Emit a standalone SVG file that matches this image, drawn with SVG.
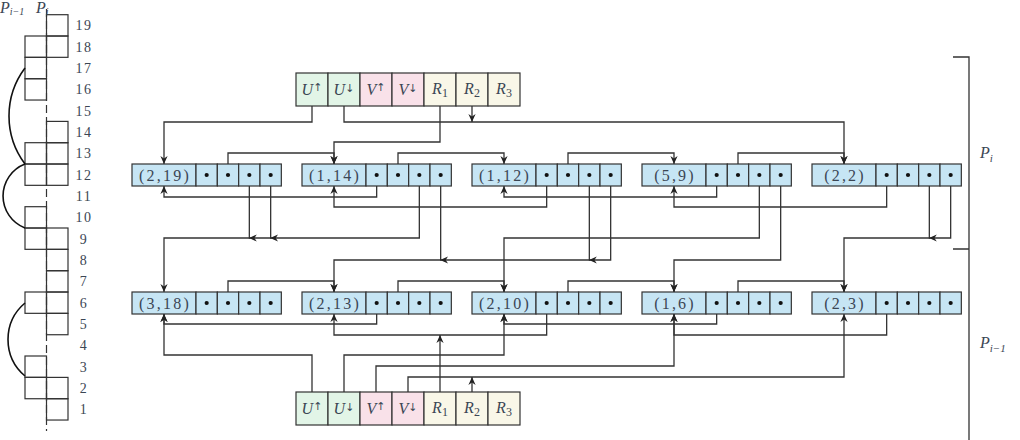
<svg xmlns="http://www.w3.org/2000/svg" width="1020" height="440" viewBox="0 0 1020 440">
<defs>
<marker id="ah" viewBox="0 0 10 10" refX="10" refY="5" markerWidth="8" markerHeight="8" markerUnits="userSpaceOnUse" orient="auto"><path d="M0,0.5 L10,5 L0,9.5 L3,5 z" fill="#222"/></marker>
<style>
.t{font-family:"Liberation Serif","DejaVu Serif",serif;fill:#3b4654}
.num{font-size:14px;letter-spacing:1.5px;text-anchor:middle}
.m{font-style:italic;font-size:16px}
.lbl{font-size:16px;letter-spacing:2.2px;text-anchor:middle}
.hd{font-size:16px;text-anchor:middle}
.ar{font-family:"DejaVu Sans",sans-serif;font-size:11px;font-style:normal}
.box{fill:none;stroke:#333;stroke-width:1.2}
.node{fill:#c6e5f4;stroke:#333;stroke-width:1.2}
.ug{fill:#e2f5e7;stroke:#333;stroke-width:1.2}
.vp{fill:#f9e1e9;stroke:#333;stroke-width:1.2}
.rc{fill:#f9f7e8;stroke:#333;stroke-width:1.2}
.c{fill:none;stroke:#333;stroke-width:1.3}
.a{marker-end:url(#ah)}
.arc{fill:none;stroke:#111;stroke-width:1.6}
.dot{fill:#111}
</style>
</defs>
<rect width="1020" height="440" fill="#fff"/>

<!-- left column -->
<g id="levels">
<line x1="46.5" y1="9" x2="46.5" y2="431" stroke="#333" stroke-width="1.2" stroke-dasharray="8 4"/>
<g class="box">
<rect x="25" y="36" width="21.5" height="21.33"/>
<rect x="25" y="57.4" width="21.5" height="21.33"/>
<rect x="25" y="78.7" width="21.5" height="21.33"/>
<rect x="25" y="142.7" width="21.5" height="21.33"/>
<rect x="25" y="164" width="21.5" height="21.33"/>
<rect x="25" y="206.7" width="21.5" height="21.33"/>
<rect x="25" y="228" width="21.5" height="21.33"/>
<rect x="25" y="292" width="21.5" height="21.33"/>
<rect x="25" y="356" width="21.5" height="21.33"/>
<rect x="25" y="377.4" width="21.5" height="21.33"/>
<rect x="46.5" y="14.7" width="21.5" height="21.33"/>
<rect x="46.5" y="36" width="21.5" height="21.33"/>
<rect x="46.5" y="121.4" width="21.5" height="21.33"/>
<rect x="46.5" y="142.7" width="21.5" height="21.33"/>
<rect x="46.5" y="164" width="21.5" height="21.33"/>
<rect x="46.5" y="228" width="21.5" height="21.33"/>
<rect x="46.5" y="249.4" width="21.5" height="21.33"/>
<rect x="46.5" y="270.7" width="21.5" height="21.33"/>
<rect x="46.5" y="292" width="21.5" height="21.33"/>
<rect x="46.5" y="313.4" width="21.5" height="21.33"/>
<rect x="46.5" y="377.4" width="21.5" height="21.33"/>
<rect x="46.5" y="398.7" width="21.5" height="21.33"/>
</g>
<path class="arc" d="M25,68 A80,80 0 0 0 25,164"/>
<path class="arc" d="M25,164 A34.3,34.3 0 0 0 25,228"/>
<path class="arc" d="M25,303 A47.7,47.7 0 0 0 25,376"/>
<g class="t num">
<text x="84" y="30.2">19</text><text x="84" y="51.5">18</text><text x="84" y="72.9">17</text>
<text x="84" y="94.2">16</text><text x="84" y="115.5">15</text><text x="84" y="136.9">14</text>
<text x="84" y="158.2">13</text><text x="84" y="179.5">12</text><text x="84" y="200.9">11</text>
<text x="84" y="222.2">10</text><text x="84" y="243.5">9</text><text x="84" y="264.9">8</text>
<text x="84" y="286.2">7</text><text x="84" y="307.5">6</text><text x="84" y="328.9">5</text>
<text x="84" y="350.2">4</text><text x="84" y="371.5">3</text><text x="84" y="392.9">2</text>
<text x="84" y="414.2">1</text>
</g>
<text class="t m" x="0" y="13" font-size="14">P<tspan font-size="10" dy="2">i−1</tspan></text>
<text class="t m" x="36" y="13" font-size="14">P<tspan font-size="10" dy="2">i</tspan></text>
</g>

<!-- connectors -->
<g id="connectors" class="c">
<path class="a" d="M312,106 V122 H164 V164"/>
<path class="a" d="M344,106 V122 H844 V164"/>
<path class="a" d="M440,106 V142 H334 V164"/>
<path class="a" d="M472,106 V122"/>
<path class="a" d="M228,175 V153 H334 V164"/>
<path class="a" d="M398,175 V153 H504 V164"/>
<path class="a" d="M568,175 V153 H674 V164"/>
<path class="a" d="M738,175 V153 H844 V164"/>
<path class="a" d="M376.67,175 V197 H164 V186"/>
<path class="a" d="M546.67,175 V207 H334 V186"/>
<path class="a" d="M716.67,175 V197 H504 V186"/>
<path class="a" d="M886.67,175 V207 H674 V186"/>
<path class="a" d="M419.33,175 V238 H164 V292"/>
<path class="a" d="M249.33,175 V238 H248.8"/>
<path class="a" d="M270.67,175 V238 H270.1"/>
<path class="a" d="M610.67,175 V260 H334 V292"/>
<path class="a" d="M589.33,175 V260 H588.8"/>
<path class="a" d="M440.67,175 V260 H440.1"/>
<path class="a" d="M759.33,175 V238 H504 V292"/>
<path class="a" d="M780.67,175 V260 H674 V292"/>
<path class="a" d="M950.67,175 V238 H844 V292"/>
<path class="a" d="M929.33,175 V238 H928.8"/>
<path class="a" d="M228,303 V281 H334 V292"/>
<path class="a" d="M398,303 V281 H504 V292"/>
<path class="a" d="M568,303 V281 H674 V292"/>
<path class="a" d="M738,303 V281 H844 V292"/>
<path class="a" d="M376.67,303 V324 H164 V314"/>
<path class="a" d="M546.67,303 V335 H334 V314"/>
<path class="a" d="M716.67,303 V324 H504 V314"/>
<path class="a" d="M886.67,303 V335 H674 V314"/>
<path class="a" d="M312,392 V355 H164 V314"/>
<path class="a" d="M344,392 V355 H504 V314"/>
<path class="a" d="M376,392 V366 H674 V314"/>
<path class="a" d="M408,392 V377 H844 V314"/>
<path class="a" d="M440,392 V335"/>
<path class="a" d="M472,392 V377"/>
</g>

<!-- headers -->
<g id="header-top">
<rect class="ug" x="296" y="73" width="32" height="33"/>
<rect class="ug" x="328" y="73" width="32" height="33"/>
<rect class="vp" x="360" y="73" width="32" height="33"/>
<rect class="vp" x="392" y="73" width="32" height="33"/>
<rect class="rc" x="424" y="73" width="32" height="33"/>
<rect class="rc" x="456" y="73" width="32" height="33"/>
<rect class="rc" x="488" y="73" width="32" height="33"/>
<g class="t hd">
<text x="312" y="95"><tspan font-style="italic">U</tspan><tspan class="ar" dy="-4">↑</tspan></text>
<text x="344" y="95"><tspan font-style="italic">U</tspan><tspan class="ar" dy="-3">↓</tspan></text>
<text x="376" y="95"><tspan font-style="italic">V</tspan><tspan class="ar" dy="-4">↑</tspan></text>
<text x="408" y="95"><tspan font-style="italic">V</tspan><tspan class="ar" dy="-3">↓</tspan></text>
<text x="440" y="94"><tspan font-style="italic">R</tspan><tspan font-size="12" dy="3">1</tspan></text>
<text x="472" y="94"><tspan font-style="italic">R</tspan><tspan font-size="12" dy="3">2</tspan></text>
<text x="504" y="94"><tspan font-style="italic">R</tspan><tspan font-size="12" dy="3">3</tspan></text>
</g>
</g>
<g id="header-bottom">
<rect class="ug" x="296" y="392" width="32" height="33"/>
<rect class="ug" x="328" y="392" width="32" height="33"/>
<rect class="vp" x="360" y="392" width="32" height="33"/>
<rect class="vp" x="392" y="392" width="32" height="33"/>
<rect class="rc" x="424" y="392" width="32" height="33"/>
<rect class="rc" x="456" y="392" width="32" height="33"/>
<rect class="rc" x="488" y="392" width="32" height="33"/>
<g class="t hd">
<text x="312" y="414"><tspan font-style="italic">U</tspan><tspan class="ar" dy="-4">↑</tspan></text>
<text x="344" y="414"><tspan font-style="italic">U</tspan><tspan class="ar" dy="-3">↓</tspan></text>
<text x="376" y="414"><tspan font-style="italic">V</tspan><tspan class="ar" dy="-4">↑</tspan></text>
<text x="408" y="414"><tspan font-style="italic">V</tspan><tspan class="ar" dy="-3">↓</tspan></text>
<text x="440" y="413"><tspan font-style="italic">R</tspan><tspan font-size="12" dy="3">1</tspan></text>
<text x="472" y="413"><tspan font-style="italic">R</tspan><tspan font-size="12" dy="3">2</tspan></text>
<text x="504" y="413"><tspan font-style="italic">R</tspan><tspan font-size="12" dy="3">3</tspan></text>
</g>
</g>

<!-- top row nodes -->
<g id="n-2-19">
<rect class="node" x="132" y="164" width="64" height="22"/>
<rect class="node" x="196" y="164" width="21.33" height="22"/><rect class="node" x="217.33" y="164" width="21.33" height="22"/><rect class="node" x="238.67" y="164" width="21.33" height="22"/><rect class="node" x="260" y="164" width="21.33" height="22"/>
<text class="t lbl" x="165" y="180.5">(2,19)</text>
<circle class="dot" cx="206.67" cy="175" r="2.1"/><circle class="dot" cx="228" cy="175" r="2.1"/><circle class="dot" cx="249.33" cy="175" r="2.1"/><circle class="dot" cx="270.67" cy="175" r="2.1"/>
</g>
<g id="n-1-14">
<rect class="node" x="302" y="164" width="64" height="22"/>
<rect class="node" x="366" y="164" width="21.33" height="22"/><rect class="node" x="387.33" y="164" width="21.33" height="22"/><rect class="node" x="408.67" y="164" width="21.33" height="22"/><rect class="node" x="430" y="164" width="21.33" height="22"/>
<text class="t lbl" x="335" y="180.5">(1,14)</text>
<circle class="dot" cx="376.67" cy="175" r="2.1"/><circle class="dot" cx="398" cy="175" r="2.1"/><circle class="dot" cx="419.33" cy="175" r="2.1"/><circle class="dot" cx="440.67" cy="175" r="2.1"/>
</g>
<g id="n-1-12">
<rect class="node" x="472" y="164" width="64" height="22"/>
<rect class="node" x="536" y="164" width="21.33" height="22"/><rect class="node" x="557.33" y="164" width="21.33" height="22"/><rect class="node" x="578.67" y="164" width="21.33" height="22"/><rect class="node" x="600" y="164" width="21.33" height="22"/>
<text class="t lbl" x="505" y="180.5">(1,12)</text>
<circle class="dot" cx="546.67" cy="175" r="2.1"/><circle class="dot" cx="568" cy="175" r="2.1"/><circle class="dot" cx="589.33" cy="175" r="2.1"/><circle class="dot" cx="610.67" cy="175" r="2.1"/>
</g>
<g id="n-5-9">
<rect class="node" x="642" y="164" width="64" height="22"/>
<rect class="node" x="706" y="164" width="21.33" height="22"/><rect class="node" x="727.33" y="164" width="21.33" height="22"/><rect class="node" x="748.67" y="164" width="21.33" height="22"/><rect class="node" x="770" y="164" width="21.33" height="22"/>
<text class="t lbl" x="675" y="180.5">(5,9)</text>
<circle class="dot" cx="716.67" cy="175" r="2.1"/><circle class="dot" cx="738" cy="175" r="2.1"/><circle class="dot" cx="759.33" cy="175" r="2.1"/><circle class="dot" cx="780.67" cy="175" r="2.1"/>
</g>
<g id="n-2-2">
<rect class="node" x="812" y="164" width="64" height="22"/>
<rect class="node" x="876" y="164" width="21.33" height="22"/><rect class="node" x="897.33" y="164" width="21.33" height="22"/><rect class="node" x="918.67" y="164" width="21.33" height="22"/><rect class="node" x="940" y="164" width="21.33" height="22"/>
<text class="t lbl" x="845" y="180.5">(2,2)</text>
<circle class="dot" cx="886.67" cy="175" r="2.1"/><circle class="dot" cx="908" cy="175" r="2.1"/><circle class="dot" cx="929.33" cy="175" r="2.1"/><circle class="dot" cx="950.67" cy="175" r="2.1"/>
</g>

<!-- bottom row nodes -->
<g id="n-3-18">
<rect class="node" x="132" y="292" width="64" height="22"/>
<rect class="node" x="196" y="292" width="21.33" height="22"/><rect class="node" x="217.33" y="292" width="21.33" height="22"/><rect class="node" x="238.67" y="292" width="21.33" height="22"/><rect class="node" x="260" y="292" width="21.33" height="22"/>
<text class="t lbl" x="165" y="308.5">(3,18)</text>
<circle class="dot" cx="206.67" cy="303" r="2.1"/><circle class="dot" cx="228" cy="303" r="2.1"/><circle class="dot" cx="249.33" cy="303" r="2.1"/><circle class="dot" cx="270.67" cy="303" r="2.1"/>
</g>
<g id="n-2-13">
<rect class="node" x="302" y="292" width="64" height="22"/>
<rect class="node" x="366" y="292" width="21.33" height="22"/><rect class="node" x="387.33" y="292" width="21.33" height="22"/><rect class="node" x="408.67" y="292" width="21.33" height="22"/><rect class="node" x="430" y="292" width="21.33" height="22"/>
<text class="t lbl" x="335" y="308.5">(2,13)</text>
<circle class="dot" cx="376.67" cy="303" r="2.1"/><circle class="dot" cx="398" cy="303" r="2.1"/><circle class="dot" cx="419.33" cy="303" r="2.1"/><circle class="dot" cx="440.67" cy="303" r="2.1"/>
</g>
<g id="n-2-10">
<rect class="node" x="472" y="292" width="64" height="22"/>
<rect class="node" x="536" y="292" width="21.33" height="22"/><rect class="node" x="557.33" y="292" width="21.33" height="22"/><rect class="node" x="578.67" y="292" width="21.33" height="22"/><rect class="node" x="600" y="292" width="21.33" height="22"/>
<text class="t lbl" x="505" y="308.5">(2,10)</text>
<circle class="dot" cx="546.67" cy="303" r="2.1"/><circle class="dot" cx="568" cy="303" r="2.1"/><circle class="dot" cx="589.33" cy="303" r="2.1"/><circle class="dot" cx="610.67" cy="303" r="2.1"/>
</g>
<g id="n-1-6">
<rect class="node" x="642" y="292" width="64" height="22"/>
<rect class="node" x="706" y="292" width="21.33" height="22"/><rect class="node" x="727.33" y="292" width="21.33" height="22"/><rect class="node" x="748.67" y="292" width="21.33" height="22"/><rect class="node" x="770" y="292" width="21.33" height="22"/>
<text class="t lbl" x="675" y="308.5">(1,6)</text>
<circle class="dot" cx="716.67" cy="303" r="2.1"/><circle class="dot" cx="738" cy="303" r="2.1"/><circle class="dot" cx="759.33" cy="303" r="2.1"/><circle class="dot" cx="780.67" cy="303" r="2.1"/>
</g>
<g id="n-2-3">
<rect class="node" x="812" y="292" width="64" height="22"/>
<rect class="node" x="876" y="292" width="21.33" height="22"/><rect class="node" x="897.33" y="292" width="21.33" height="22"/><rect class="node" x="918.67" y="292" width="21.33" height="22"/><rect class="node" x="940" y="292" width="21.33" height="22"/>
<text class="t lbl" x="845" y="308.5">(2,3)</text>
<circle class="dot" cx="886.67" cy="303" r="2.1"/><circle class="dot" cx="908" cy="303" r="2.1"/><circle class="dot" cx="929.33" cy="303" r="2.1"/><circle class="dot" cx="950.67" cy="303" r="2.1"/>
</g>

<!-- right bracket -->
<g id="bracket">
<path d="M953,57 H969 V440 M953,249 H969" fill="none" stroke="#333" stroke-width="1.3"/>
<text class="t m" x="980" y="158">P<tspan font-size="11" dy="4">i</tspan></text>
<text class="t m" x="980" y="348">P<tspan font-size="11" dy="4">i−1</tspan></text>
</g>
</svg>
